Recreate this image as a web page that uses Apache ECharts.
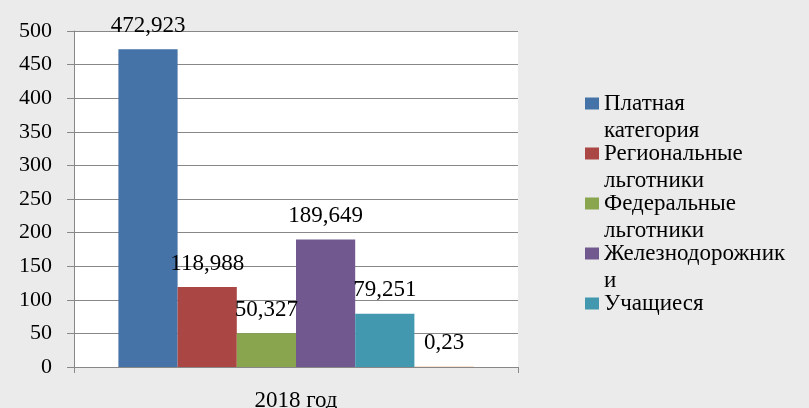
<!DOCTYPE html>
<html>
<head>
<meta charset="utf-8">
<script src="https://cdn.jsdelivr.net/npm/echarts@6/dist/echarts.min.js"></script>
<style>
html,body{margin:0;padding:0;background:#ebebeb;}
#chart{width:809px;height:408px;}
</style>
</head>
<body>
<div id="chart"></div>
<script>
const categories = ['2018 год'];
const seriesNames = ['Платная категория', 'Региональные льготники', 'Федеральные льготники', 'Железнодорожники', 'Учащиеся', 'Прочие'];
const legendLabels = ['Платная\nкатегория', 'Региональные\nльготники', 'Федеральные\nльготники', 'Железнодорожник\nи', 'Учащиеся\n'];
const values = [472.923, 118.988, 50.327, 189.649, 79.251, 0.23];
const colors = ['#4572A7', '#AA4643', '#89A54E', '#71588F', '#4198AF', '#DB843D'];
const yTicks = [0, 50, 100, 150, 200, 250, 300, 350, 400, 450, 500];

const FONT = '"Liberation Serif"';
const chart = echarts.init(document.getElementById('chart'), null, {renderer: 'canvas'});

const legendMap = {};
seriesNames.slice(0, 5).forEach((n, i) => { legendMap[n] = legendLabels[i]; });

const option = {
  backgroundColor: '#ebebeb',
  animation: false,
  textStyle: {fontFamily: FONT},
  grid: {
    left: 74, right: 291, top: 31, bottom: 41,
    containLabel: false,
    outerBoundsMode: 'none',
    show: true, backgroundColor: '#ffffff', borderWidth: 0
  },
  legend: {
    orient: 'vertical',
    left: 585,
    top: 63,
    padding: 0,
    itemWidth: 14,
    itemHeight: 12,
    itemGap: -31,
    icon: 'rect',
    data: seriesNames.slice(0, 5),
    formatter: name => '\n' + (legendMap[name] || name),
    textStyle: {
      fontFamily: FONT, fontSize: 23, color: '#000',
      lineHeight: 27
    }
  },
  xAxis: {
    type: 'category',
    data: categories,
    axisLine: {lineStyle: {color: '#888', width: 1}},
    axisTick: {show: true, length: 6, lineStyle: {color: '#888'}},
    axisLabel: {fontFamily: FONT, fontSize: 23, color: '#000', margin: 22}
  },
  yAxis: {
    type: 'value',
    min: yTicks[0],
    max: yTicks[yTicks.length - 1],
    interval: yTicks[1] - yTicks[0],
    axisLine: {show: true, lineStyle: {color: '#888', width: 1}},
    axisTick: {show: true, length: 7, lineStyle: {color: '#888'}},
    splitLine: {lineStyle: {color: '#888', width: 1}},
    axisLabel: {fontFamily: FONT, fontSize: 22, color: '#000', margin: 22}
  },
  series: seriesNames.map((name, i) => ({
    name: name,
    type: 'bar',
    data: [values[i]],
    barGap: 0,
    barCategoryGap: '20%',
    itemStyle: {color: colors[i]},
    label: {
      show: true,
      position: 'top',
      distance: 12,
      fontFamily: FONT,
      fontSize: 23,
      color: '#000',
      formatter: p => String(p.value).replace('.', ',')
    }
  }))
};
chart.setOption(option);
</script>
</body>
</html>
